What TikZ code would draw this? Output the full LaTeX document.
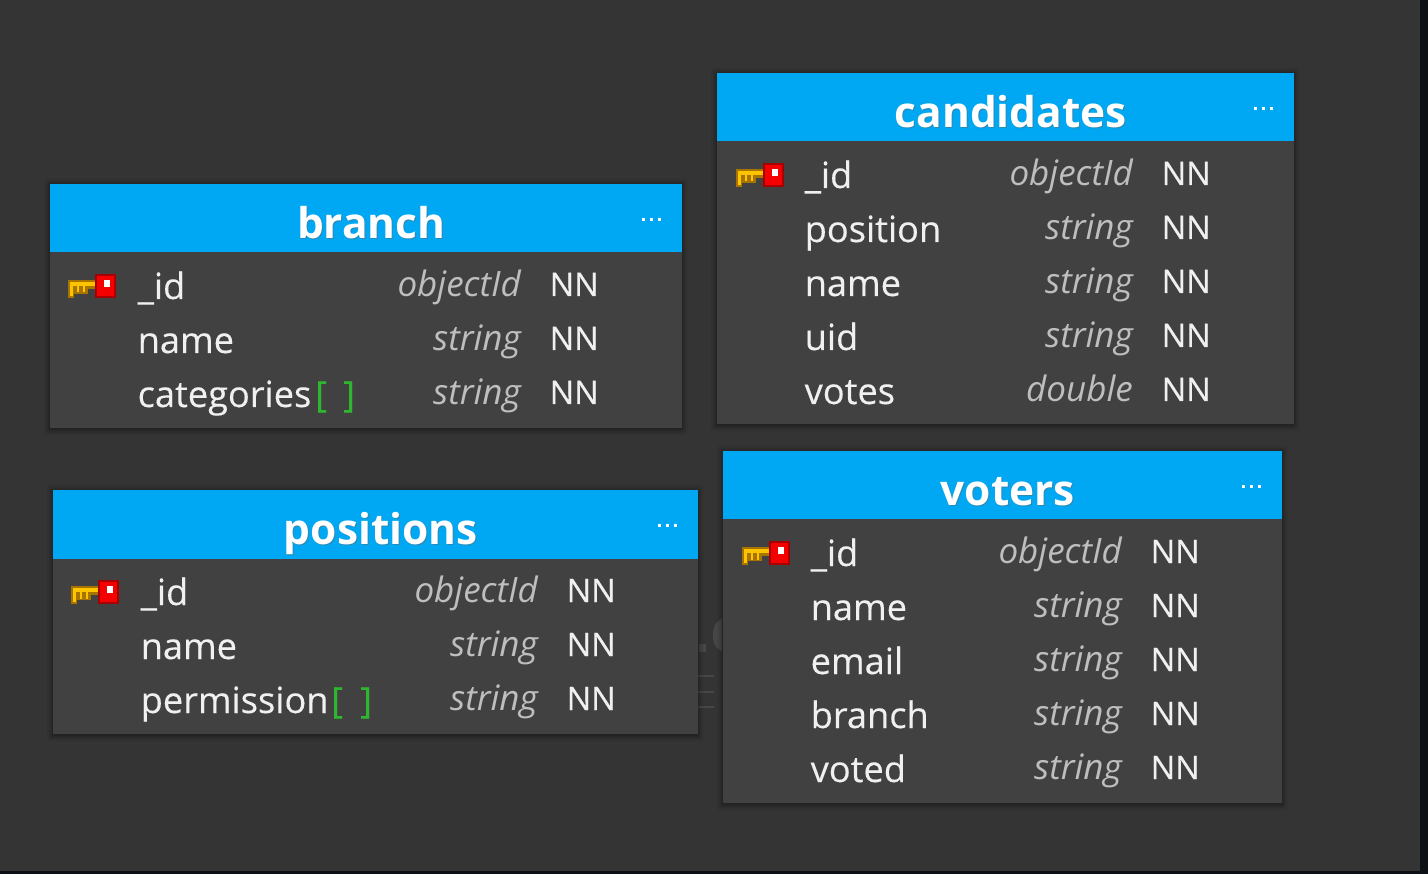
\documentclass[tikz,border=0pt]{standalone}
\usepackage{fontspec}
\setmainfont{Open Sans}
\newfontfamily\semifont[FakeBold=0.3]{Open Sans}
\definecolor{bgc}{HTML}{343434}
\definecolor{edgec}{HTML}{0D1015}
\definecolor{bodyc}{HTML}{414141}
\definecolor{headc}{HTML}{00A7F2}
\definecolor{typec}{HTML}{BEBEBE}
\definecolor{namec}{HTML}{F0F0F0}
\definecolor{greenc}{HTML}{2FB52F}
\definecolor{goldc}{HTML}{FFC400}
\definecolor{goldd}{HTML}{A87400}
\definecolor{redc}{HTML}{F40000}
\definecolor{redd}{HTML}{A80000}
\definecolor{ghostc}{HTML}{464646}
\tikzset{
  x=1pt,y=-1pt,
  title/.style={font=\fontsize{42.4}{46}\selectfont\bfseries,text=white,anchor=base,inner sep=0pt},
  fname/.style={font=\semifont\fontsize{36.2}{40}\selectfont,text=namec,anchor=base west,inner sep=0pt},
  ftype/.style={font=\fontsize{35}{40}\selectfont\itshape,text=typec,anchor=base east,inner sep=0pt},
  fnn/.style={font=\semifont\fontsize{32.5}{40}\selectfont,text=namec,anchor=base west,inner sep=0pt},
  brk/.style={font=\semifont\fontsize{36}{40}\selectfont,text=greenc,anchor=base west,inner sep=0pt},
  bodybox/.style={fill=bodyc,draw=none,inner sep=0pt},
  headbox/.style={fill=headc,draw=none,inner sep=0pt},
}
% table frame: x0, x1, ytop, ybottom, title, id
\newcommand{\tablebox}[6]{%
  \foreach \g/\o in {6/.05,4/.07,2.5/.09,1/.12}{
    \fill[black,opacity=\o,rounded corners=2pt] (#1-\g,#3-\g+1) rectangle (#2+\g,#4+\g+1);
  }
  \fill[bodybox] (#1,#3) rectangle (#2,#4);
  \fill[headbox] (#1,#3) rectangle (#2,#3+68.5);
  \node[title,text=black!60,opacity=.45] at ({(#1+#2)/2+5.5+1},#3+55.5) {#5};
  \node[title] (#6-title) at ({(#1+#2)/2+5.5},#3+54.5) {#5};
  \foreach \d in {-8,0,8}{\fill[white] (#2-30+\d-1.5,#3+34) rectangle ++(3,3);}
}
% key: x0, ytop of its table
\newcommand{\keyicon}[2]{%
  \begin{scope}[shift={(#1,#2)}]
    \fill[goldd] (18,96) rectangle (46,105);
    \fill[goldd] (18,96) rectangle (24,114);
    \fill[goldd] (24,105) rectangle (38,110);
    \fill[goldc] (20,98) rectangle (46,102);
    \fill[goldc] (20,98) rectangle (23,112);
    \fill[goldc] (27,102) rectangle (29,108.5);
    \fill[goldc] (33,102) rectangle (35,108.5);
    \fill[redd] (45,90) rectangle (66,114);
    \fill[redc] (47,92) rectangle (64,112);
    \fill[white] (54,96) rectangle (60,103);
  \end{scope}}
% row: id, x0, ytop, index, name, type, typeRight
\newcommand{\fieldrow}[7]{%
  \node[fname] (#1-n#4) at (#2+87.5,#3+115+54*#4) {#5};
  \node[ftype] (#1-t#4) at (#7,#3+112.7+54*#4) {#6};
  \node[fnn] (#1-c#4) at (#7+28.5,#3+112+54*#4) {NN};
}
\begin{document}
\begin{tikzpicture}
\useasboundingbox (0,0) rectangle (1428,874);
\fill[edgec] (0,0) rectangle (1428,874);
\fill[bgc] (0,0) rectangle (1420,871);
% faint watermark behind the tables
\fill[ghostc] (699,644) rectangle (706,652);
\node[font=\fontsize{62}{62}\selectfont\bfseries,text=ghostc,anchor=base west,inner sep=0pt] (ghost) at (710,652) {e};
\foreach \yy in {675,691,706}{\fill[ghostc] (698,\yy) rectangle (714,\yy+2);}
\fill[bgc] (722,600) rectangle (760,720);

\tablebox{50}{681.5}{184}{428}{branch}{br}
\keyicon{50}{184}
\fieldrow{br}{50}{184}{0}{\_id}{objectId}{521}
\fieldrow{br}{50}{184}{1}{name}{string}{521}
\fieldrow{br}{50}{184}{2}{categories}{string}{521}
\node[brk] (br-ob) at (315,407) {[};
\node[brk] (br-cb) at (343,407) {]};

\tablebox{53}{697.5}{490}{734}{positions}{po}
\keyicon{53}{490}
\fieldrow{po}{53}{490}{0}{\_id}{objectId}{538}
\fieldrow{po}{53}{490}{1}{name}{string}{538}
\fieldrow{po}{53}{490}{2}{permission}{string}{538}
\node[brk] (po-ob) at (331,713) {[};
\node[brk] (po-cb) at (360,713) {]};

\tablebox{717}{1293.5}{73}{424}{candidates}{ca}
\keyicon{718}{73}
\fieldrow{ca}{717}{73}{0}{\_id}{objectId}{1133}
\fieldrow{ca}{717}{73}{1}{position}{string}{1133}
\fieldrow{ca}{717}{73}{2}{name}{string}{1133}
\fieldrow{ca}{717}{73}{3}{uid}{string}{1133}
\fieldrow{ca}{717}{73}{4}{votes}{double}{1133}

\tablebox{723}{1281.5}{451}{803}{voters}{vo}
\keyicon{724}{451}
\fieldrow{vo}{723}{451}{0}{\_id}{objectId}{1122}
\fieldrow{vo}{723}{451}{1}{name}{string}{1122}
\fieldrow{vo}{723}{451}{2}{email}{string}{1122}
\fieldrow{vo}{723}{451}{3}{branch}{string}{1122}
\fieldrow{vo}{723}{451}{4}{voted}{string}{1122}
\end{tikzpicture}
\end{document}
